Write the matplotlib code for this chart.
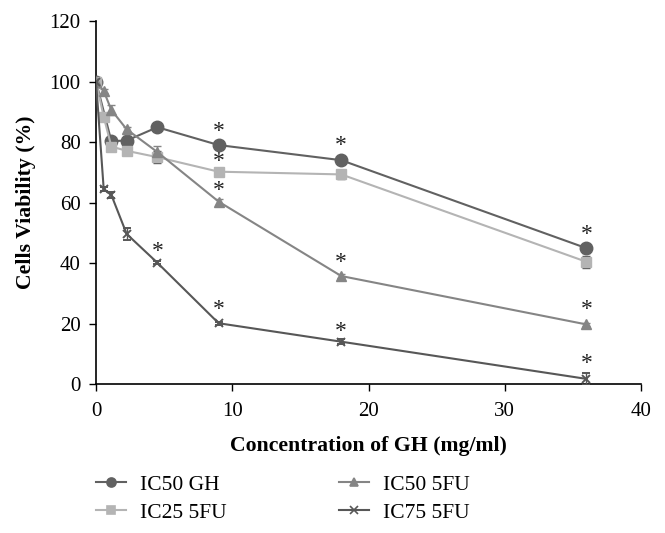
import numpy as np
import matplotlib
matplotlib.use("Agg")
import matplotlib.pyplot as plt
from matplotlib.lines import Line2D

plt.rcParams['font.family'] = ['Liberation Serif', 'DejaVu Serif']

# concentrations (mg/ml)
conc = [0, 0.5625, 1.125, 2.25, 4.5, 9, 18, 36]
conc_gh = [0, 1.125, 2.25, 4.5, 9, 18, 36]

# viability (%)
ic50_gh = [100, 80.3, 80.5, 84.9, 79.0, 74.0, 44.9]
ic50_gh_err = [0, 1.0, 1.5, 0.8, 0.8, 0.8, 1.5]
ic25_5fu = [100, 88.4, 78.5, 77.1, 75.0, 70.2, 69.3, 40.4]
ic25_5fu_err = [0, 0.8, 0.8, 0.8, 2.0, 1.0, 1.5, 2.0]
ic50_5fu = [100, 96.9, 90.6, 84.2, 76.7, 60.3, 35.7, 19.7]
ic50_5fu_err = [0, 0.8, 1.5, 0.8, 2.0, 1.0, 0.8, 0.5]
ic75_5fu = [100, 64.5, 62.5, 49.6, 40.1, 20.1, 14.0, 1.7]
ic75_5fu_err = [0, 0.8, 1.0, 2.0, 0.5, 0.5, 0.8, 2.0]

# significance stars (x, y)
stars_x = [9, 9, 9, 9, 4.5, 18, 18, 18, 36, 36, 36]
stars_y = [84.6, 74.7, 65.3, 25.9, 45.0, 80.2, 41.4, 18.7, 50.7, 25.7, 8.0]

labels = ['IC50 GH', 'IC25 5FU', 'IC50 5FU', 'IC75 5FU']
colors = ['#616161', '#b4b4b4', '#858585', '#575757']

fig = plt.figure(figsize=(6.65, 5.33), dpi=100)
ax = fig.add_axes([0.1444, 0.2795, 0.8195, 0.681])

ax.errorbar(conc_gh, ic50_gh, yerr=ic50_gh_err, color=colors[0], marker='o',
            markersize=9, lw=1.5, capsize=3, elinewidth=1, zorder=3)
ax.errorbar(conc, ic25_5fu, yerr=ic25_5fu_err, color=colors[1], marker='s',
            markersize=6.5, lw=1.5, capsize=3, elinewidth=1, ecolor='#555555', zorder=3)
ax.errorbar(conc, ic50_5fu, yerr=ic50_5fu_err, color=colors[2], marker='^',
            markersize=7, lw=1.5, capsize=3, elinewidth=1, zorder=3)
ax.errorbar(conc, ic75_5fu, yerr=ic75_5fu_err, color=colors[3], marker='x',
            markersize=6, mew=1.4, lw=1.5, capsize=3, elinewidth=1, zorder=3)

for sx, sy in zip(stars_x, stars_y):
    ax.text(sx, sy - 1.2, '*', ha='center', va='center', fontsize=17, color='#222222')

ax.set_xlim(0, 40)
ax.set_ylim(0, 120)
ax.set_xticks([0, 10, 20, 30, 40])
ax.set_yticks([0, 20, 40, 60, 80, 100, 120])
ax.spines['top'].set_visible(False)
ax.spines['right'].set_visible(False)
ax.spines['left'].set_linewidth(1.2)
ax.spines['bottom'].set_linewidth(1.2)
ax.tick_params(direction='out', length=5, width=1, labelsize=15)
ax.tick_params(axis='x', pad=8)
ax.tick_params(axis='y', pad=6)

ax.set_xlabel('Concentration of GH (mg/ml)', fontsize=15.7, fontweight='bold', labelpad=11)
ax.set_ylabel('Cells Viability (%)', fontsize=15.7, fontweight='bold', labelpad=10)

markers = ['o', 's', '^', 'x']
msizes = [6.5, 5.5, 6, 5.5]
handles = [Line2D([], [], color=c, marker=m, markersize=s, lw=1.5, mew=1.2)
           for c, m, s in zip(colors, markers, msizes)]
ax.legend(handles, labels, loc='upper left', bbox_to_anchor=(0, -0.25), ncol=2,
          frameon=False, fontsize=15.5, handlelength=1.4, handletextpad=0.65,
          columnspacing=5.2, labelspacing=0.36, borderpad=0, borderaxespad=0)

fig.savefig('out.png', dpi=100)
